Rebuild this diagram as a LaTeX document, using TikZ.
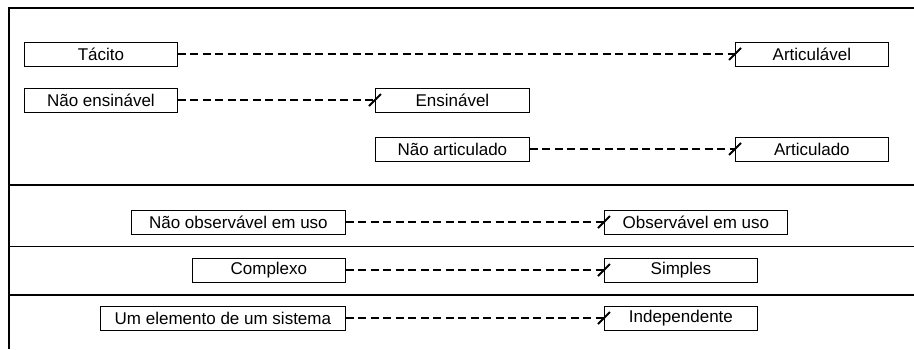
\documentclass[tikz,border=0pt]{standalone}
\usepackage{fontspec}
\setmainfont{Liberation Sans}
\tikzset{
  caixa/.style={draw,line width=.8pt,minimum height=24,inner sep=0pt,anchor=west,font=\fontsize{17}{17}\selectfont},
  liga/.style={line width=1.8pt,dash pattern=on 8pt off 4.5pt},
  corte/.style={line width=2pt},
  moldura/.style={line width=1.8pt}
}
\begin{document}
\begin{tikzpicture}[x=1pt,y=-1pt]
\useasboundingbox (0,0) rectangle (914,349);
% moldura e divisoes
\draw[moldura] (9,349) -- (9,8) -- (914,8);
\foreach \y in {185,295}\draw[moldura] (9,\y) -- (914,\y);
\draw[line width=.9pt] (9,246) -- (914,246);
% caixas
\node[caixa,minimum width=153] (tacito) at (24,54) {Tácito};
\node[caixa,minimum width=153] (articulavel) at (735,54) {Articulável};
\node[caixa,minimum width=153] (naoensinavel) at (24,100) {Não ensinável};
\node[caixa,minimum width=154] (ensinavel) at (375,100) {Ensinável};
\node[caixa,minimum width=154] (naoarticulado) at (375,149) {Não articulado};
\node[caixa,minimum width=153] (articulado) at (735,149) {Articulado};
\node[caixa,minimum width=214] (naoobservavel) at (131,222) {Não observável em uso};
\node[caixa,minimum width=183] (observavel) at (604,222) {Observável em uso};
\node[caixa,minimum width=153] (complexo) at (192,270) {Complexo};
\node[caixa,minimum width=153] (simples) at (604,270) {Simples};
\node[caixa,minimum width=245] (elemento) at (100,318) {Um elemento de um sistema};
\node[caixa,minimum width=153] (independente) at (604,318) {Independente};
% ligacoes
\foreach \a/\b in {tacito/articulavel,naoensinavel/ensinavel,naoarticulado/articulado,
  naoobservavel/observavel,complexo/simples,elemento/independente}{
  \draw[liga] (\a.east) -- (\b.west);
  \draw[corte] (\b.west) ++(-6,6) -- ++(12,-12);}
\end{tikzpicture}
\end{document}
